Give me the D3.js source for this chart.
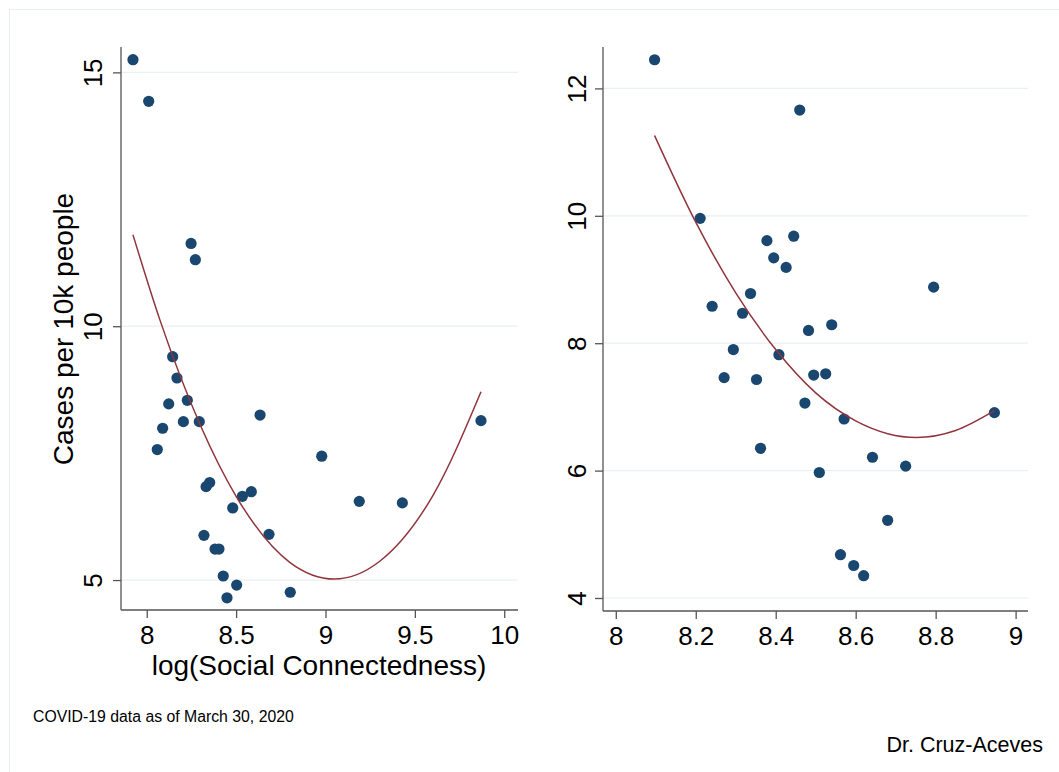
<!DOCTYPE html>
<html>
<head>
<meta charset="utf-8">
<script src="https://cdn.jsdelivr.net/npm/d3@7"></script>
<style>
  html, body { margin: 0; padding: 0; background: #fff; }
  svg { display: block; font-family: "Liberation Sans", Arial, sans-serif; }
</style>
</head>
<body>
<svg id="chart" width="1059" height="772"></svg>
<script>
// left panel: log(Social Connectedness) vs cases per 10k
var leftX = [7.923, 8.011, 8.248, 8.272, 8.145, 8.169, 8.123, 8.227, 8.205, 8.294,
             8.089, 8.059, 8.634, 8.979, 9.870, 8.332, 8.352, 8.535, 8.585, 8.481,
             9.189, 9.430, 8.684, 8.320, 8.382, 8.404, 8.428, 8.503, 8.449, 8.803];
var leftY = [15.25, 14.43, 11.63, 11.31, 9.40, 8.98, 8.47, 8.54, 8.12, 8.12,
             7.99, 7.57, 8.25, 7.44, 8.14, 6.84, 6.92, 6.65, 6.74, 6.42,
             6.55, 6.52, 5.90, 5.88, 5.61, 5.61, 5.08, 4.90, 4.65, 4.76];
// quadratic fit line
var leftFitX = [7.923, 8.074, 8.3, 8.5, 8.8, 9.049, 9.3, 9.6, 9.870];
var leftFitY = [11.80, 10.12, 8.05, 6.65, 5.35, 5.02, 5.36, 6.66, 8.71];
var leftXTicks = [8, 8.5, 9, 9.5, 10];
var leftYTicks = [5, 10, 15];

// right panel
var rightX = [8.097, 8.460, 8.211, 8.378, 8.445, 8.395, 8.426, 8.795, 8.337, 8.241,
              8.317, 8.482, 8.540, 8.294, 8.408, 8.271, 8.352, 8.495, 8.525, 8.473,
              8.571, 8.947, 8.362, 8.642, 8.725, 8.509, 8.680, 8.562, 8.595, 8.620];
var rightY = [12.45, 11.66, 9.96, 9.61, 9.68, 9.34, 9.19, 8.88, 8.78, 8.58,
              8.47, 8.20, 8.29, 7.90, 7.82, 7.46, 7.43, 7.50, 7.52, 7.06,
              6.81, 6.91, 6.35, 6.21, 6.07, 5.97, 5.22, 4.68, 4.51, 4.35];
var rightFitX = [8.097, 8.2, 8.3, 8.4, 8.5, 8.6, 8.68, 8.752, 8.85, 8.947];
var rightFitY = [11.26, 9.90, 8.79, 7.90, 7.22, 6.78, 6.58, 6.52, 6.63, 6.94];
var rightXTicks = [8, 8.2, 8.4, 8.6, 8.8, 9];
var rightYTicks = [4, 6, 8, 10, 12];

var dotColor = "#1a476f", fitColor = "#90353b", gridColor = "#e9f0f2", axisColor = "#555";

var svg = d3.select("#chart");

// faint outer border like the Stata export
svg.append("rect")
  .attr("x", 9.5).attr("y", 9.5)
  .attr("width", 1100).attr("height", 800)
  .attr("fill", "none").attr("stroke", "#e8eded");

function panel(opts) {
  var x = d3.scaleLinear().domain(opts.xDomain).range([opts.left, opts.right]);
  var y = d3.scaleLinear().domain(opts.yDomain).range([opts.bottom, opts.top]);
  var g = svg.append("g");

  // gridlines
  g.selectAll(".grid").data(opts.yTicks).enter().append("line")
    .attr("x1", opts.left).attr("x2", opts.right)
    .attr("y1", function(d) { return y(d); }).attr("y2", function(d) { return y(d); })
    .attr("stroke", gridColor).attr("stroke-width", 1.2);

  // y axis
  var yAxis = g.append("g")
    .attr("transform", "translate(" + opts.left + ",0)")
    .call(d3.axisLeft(y).tickValues(opts.yTicks).tickSize(8).tickSizeOuter(0).tickFormat(d3.format("d")));
  yAxis.select(".domain").attr("stroke", axisColor).attr("stroke-width", 1.3)
    .attr("d", "M0," + opts.top + "V" + opts.bottom);
  yAxis.selectAll(".tick line").attr("stroke", axisColor).attr("stroke-width", 1.3);
  yAxis.selectAll(".tick text")
    .attr("font-size", 26).attr("fill", "#000")
    .attr("x", null)
    .attr("text-anchor", "middle")
    .attr("transform", "translate(" + opts.yLabelOffset + ",0) rotate(-90)")
    .attr("y", 0).attr("dy", "0.35em");

  // x axis
  var xAxis = g.append("g")
    .attr("transform", "translate(0," + opts.bottom + ")")
    .call(d3.axisBottom(x).tickValues(opts.xTicks).tickSize(8).tickSizeOuter(0).tickFormat(d3.format("")));
  xAxis.select(".domain").attr("stroke", axisColor).attr("stroke-width", 1.3)
    .attr("d", "M" + opts.left + ",0H" + opts.right);
  xAxis.selectAll(".tick line").attr("stroke", axisColor).attr("stroke-width", 1.3);
  xAxis.selectAll(".tick text").attr("font-size", 26).attr("fill", "#000").attr("y", 16);

  // points
  g.selectAll(".dot").data(opts.xs).enter().append("circle")
    .attr("cx", function(d) { return x(d); })
    .attr("cy", function(d, i) { return y(opts.ys[i]); })
    .attr("r", 5.6)
    .attr("fill", dotColor);

  // fitted quadratic
  g.append("path")
    .datum(opts.fitX)
    .attr("fill", "none").attr("stroke", fitColor).attr("stroke-width", 1.5)
    .attr("d", d3.line()
      .curve(d3.curveMonotoneX)
      .x(function(d) { return x(d); })
      .y(function(d, i) { return y(opts.fitY[i]); }));

  return { x: x, y: y };
}

panel({ xs: leftX, ys: leftY, fitX: leftFitX, fitY: leftFitY,
        xTicks: leftXTicks, yTicks: leftYTicks,
        xDomain: [7.856, 10.077], yDomain: [4.41, 15.5],
        left: 121, right: 518, top: 47, bottom: 610, yLabelOffset: -28 });

panel({ xs: rightX, ys: rightY, fitX: rightFitX, fitY: rightFitY,
        xTicks: rightXTicks, yTicks: rightYTicks,
        xDomain: [7.968, 9.031], yDomain: [3.796, 12.65],
        left: 603, right: 1028, top: 47, bottom: 611, yLabelOffset: -26 });

// titles
svg.append("text")
  .attr("x", 319).attr("y", 675)
  .attr("text-anchor", "middle").attr("font-size", 28)
  .text("log(Social Connectedness)");

svg.append("text")
  .attr("transform", "translate(73,329) rotate(-90)")
  .attr("text-anchor", "middle").attr("font-size", 28)
  .text("Cases per 10k people");

svg.append("text")
  .attr("x", 33).attr("y", 722).attr("font-size", 15.8)
  .text("COVID-19 data as of March 30, 2020");

svg.append("text")
  .attr("x", 1043).attr("y", 752).attr("text-anchor", "end").attr("font-size", 21.5)
  .text("Dr. Cruz-Aceves");
</script>
</body>
</html>
